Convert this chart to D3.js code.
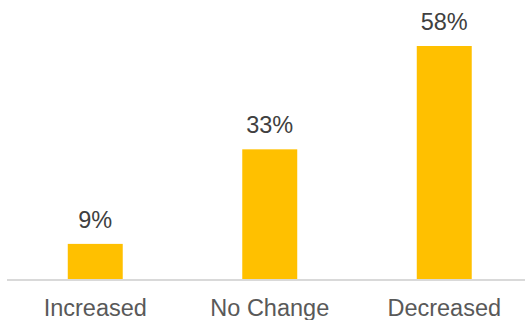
<!DOCTYPE html>
<html><head><meta charset="utf-8">
<script src="https://cdn.jsdelivr.net/npm/d3@7"></script>
<style>html,body{margin:0;padding:0;background:#fff;}svg{display:block;}</style>
</head><body>
<svg id="chart" width="525" height="320"></svg>
<script>
const categories = ["Increased", "No Change", "Decreased"];
const values = [8.8, 32.5, 58.4];
const valueLabels = ["9%", "33%", "58%"];

const svg = d3.select("#chart");
const baseY = 279;
const x = d3.scaleBand().domain(categories).range([8, 531.5]).paddingInner(0.685).paddingOuter(0.3425);
const y = d3.scaleLinear().domain([0, 58.4]).range([baseY, 46]);

svg.selectAll("rect.bar").data(values).enter().append("rect")
  .attr("class", "bar")
  .attr("x", (d, i) => x(categories[i]))
  .attr("width", x.bandwidth())
  .attr("y", d => y(d))
  .attr("height", d => baseY - y(d))
  .attr("fill", "#FFC000");

const axis = d3.axisBottom(x).tickSize(0).tickPadding(0);
const g = svg.append("g").attr("transform", `translate(0,${baseY})`).call(axis);
g.select(".domain").attr("stroke", "#d9d9d9").attr("stroke-width", 2).attr("d", "M7,1H525");
g.selectAll(".tick text")
  .attr("dy", null).attr("y", 37)
  .attr("font-family", "Liberation Sans, Arial, sans-serif")
  .attr("font-size", 23.5).attr("fill", "#595959");

svg.selectAll("text.val").data(values).enter().append("text")
  .attr("class", "val")
  .attr("x", (d, i) => x(categories[i]) + x.bandwidth() / 2)
  .attr("y", d => y(d) - 16)
  .attr("text-anchor", "middle")
  .attr("font-family", "Liberation Sans, Arial, sans-serif")
  .attr("font-size", 23.5).attr("fill", "#404040")
  .text((d, i) => valueLabels[i]);
</script>
</body></html>
